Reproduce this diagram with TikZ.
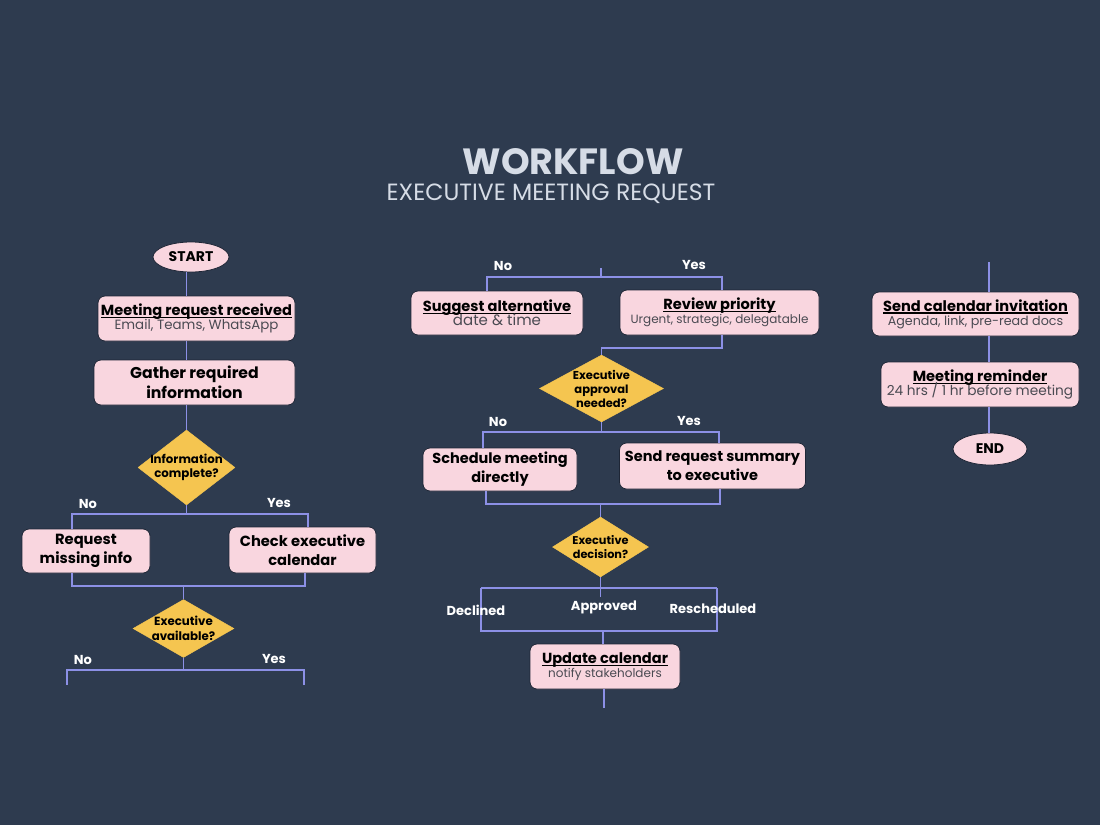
\documentclass[tikz,border=0pt]{standalone}
\usepackage{fontspec}
\setmainfont{Poppins}
\usepackage{tikz}
\usetikzlibrary{shapes.geometric}
\definecolor{bgblue}{HTML}{2E3B4F}
\definecolor{boxpink}{HTML}{F9D6DF}
\definecolor{boxedge}{HTML}{1E2636}
\definecolor{decyellow}{HTML}{F5C550}
\definecolor{flowline}{HTML}{8C90E6}
\definecolor{titlegray}{HTML}{D6DCE6}
\definecolor{subgray}{HTML}{4A4A52}
\newcommand{\titleline}[1]{\setbox0\hbox{#1}\rlap{\rule[-2.4pt]{\wd0}{1.1pt}}\box0}
\newcommand{\subtxt}[2]{{\fontsize{#1}{#1}\selectfont\mdseries\color{subgray}#2}}

\begin{document}
\begin{tikzpicture}[x=1pt,y=-1pt,
  termbox/.style={ellipse, draw=boxedge, line width=0.8pt, fill=boxpink, inner sep=0pt,
    font=\fontsize{14}{16}\selectfont\bfseries},
  stepbox/.style={rectangle, rounded corners=7pt, draw=boxedge, line width=0.8pt, fill=boxpink,
    inner sep=0pt, align=center, font=\fontsize{15}{19}\selectfont\bfseries},
  notebox/.style={stepbox, font=\fontsize{14.6}{17}\selectfont\bfseries},
  decision/.style={diamond, draw=decyellow, fill=decyellow, inner sep=0pt},
  qtext/.style={align=center, font=\fontsize{11.8}{14.5}\selectfont\bfseries, text=black},
  branch/.style={draw=flowline, line width=1.8pt},
  lbl/.style={text=white, font=\fontsize{13}{14}\selectfont\bfseries}]

\path[use as bounding box, fill=bgblue] (0,0) rectangle (1100,825);

% title
\node[text=titlegray, font=\fontsize{36.5}{38}\selectfont\bfseries] (title) at (573,162) {WORKFLOW};
\node[text=titlegray, font=\fontsize{23.5}{26}\selectfont] (subtitle) at (551,194) {EXECUTIVE MEETING REQUEST};

% left column
\node[termbox, minimum width=76pt, minimum height=30pt] (start) at (191,257) {START};
\node[notebox, minimum width=197pt, minimum height=45pt] (recv) at (196.5,318.5)
  {\titleline{Meeting request received}\\[-3pt]\subtxt{13.4}{Email, Teams, WhatsApp}};
\node[stepbox, minimum width=201pt, minimum height=45pt, font=\fontsize{15.7}{20}\selectfont\bfseries] (gather) at (194.5,382.5) {Gather required\\information};
\node[decision, minimum width=97pt, minimum height=75pt,
  label={[qtext]center:Information\\complete?}] (infoq) at (186.5,467.5) {};
\node[stepbox, minimum width=128pt, minimum height=44pt, font=\fontsize{14.7}{19}\selectfont\bfseries] (reqmiss) at (86,551) {Request\\missing info};
\node[stepbox, minimum width=147pt, minimum height=46pt, font=\fontsize{14.7}{19}\selectfont\bfseries] (checkcal) at (302.5,550) {Check executive\\calendar};
\node[decision, minimum width=101pt, minimum height=58pt,
  label={[qtext]center:Executive\\available?}] (availq) at (183.5,628.5) {};

\coordinate (noA) at (72,514);
\coordinate (yesA) at (308,514);
\coordinate (mergeA) at (72,586);
\coordinate (mergeB) at (305,586);
\coordinate (noB) at (67,670);
\coordinate (yesB) at (304,670);

\draw[branch] (start.south -| infoq) -- (recv.north -| infoq);
\draw[branch] (recv.south -| infoq) -- (gather.north -| infoq);
\draw[branch] (gather.south -| infoq) -- (infoq.north);
\draw[branch] (infoq.south) |- (noA) -- (noA |- reqmiss.north);
\draw[branch] (infoq.south) |- (yesA) -- (yesA |- checkcal.north);
\draw[branch] (mergeA |- reqmiss.south) -- (mergeA) -- (mergeB) -- (mergeB |- checkcal.south);
\draw[branch] (availq.north) -- (availq.north |- mergeA);
\draw[branch] (availq.south) |- (noB) -- ++(0,15);
\draw[branch] (availq.south) |- (yesB) -- ++(0,15);

\node[lbl] (noAlbl) at (88,504) {No};
\node[lbl] (yesAlbl) at (279,503) {Yes};
\node[lbl] (noBlbl) at (83,660) {No};
\node[lbl] (yesBlbl) at (274,659) {Yes};

% middle column
\node[notebox, minimum width=172pt, minimum height=44pt] (suggest) at (497,313)
  {\titleline{Suggest alternative}\\[-3pt]\subtxt{15}{date \& time}};
\node[notebox, minimum width=199pt, minimum height=45pt] (review) at (719.5,312.5)
  {\titleline{Review priority}\\[-3pt]\subtxt{12}{Urgent, strategic, delegatable}};
\node[decision, minimum width=124pt, minimum height=67pt,
  label={[qtext, font=\fontsize{11.5}{14}\selectfont\bfseries]center:Executive\\approval\\needed?}] (apprq) at (601.5,388.5) {};
\node[stepbox, minimum width=154pt, minimum height=43pt, font=\fontsize{14.5}{19}\selectfont\bfseries] (sched) at (500,469.5) {Schedule meeting\\directly};
\node[stepbox, minimum width=186pt, minimum height=46pt, font=\fontsize{14.5}{19}\selectfont\bfseries] (sendsum) at (712.5,466) {Send request summary\\to executive};
\node[decision, minimum width=96pt, minimum height=60pt,
  label={[qtext, font=\fontsize{11.3}{14}\selectfont\bfseries]center:Executive\\decision?}] (decq) at (600.5,547) {};
\node[notebox, minimum width=150pt, minimum height=45pt] (update) at (605,666.5)
  {\titleline{Update calendar}\\[-3pt]\subtxt{12}{notify stakeholders}};

\coordinate (topM) at (601,268);
\coordinate (noC) at (487,277);
\coordinate (yesC) at (722,277);
\coordinate (turnC) at (722,348);
\coordinate (noD) at (483,432);
\coordinate (yesD) at (719,432);
\coordinate (mergeC) at (486,504);
\coordinate (mergeD) at (720,504);
\coordinate (declA) at (481,588);
\coordinate (reschA) at (717,588);
\coordinate (declB) at (481,631);
\coordinate (reschB) at (717,631);
\coordinate (approvA) at (600.5,597);

\draw[branch] (topM) -- (topM |- noC);
\draw[branch] (noC |- suggest.north) -- (noC) -- (yesC) -- (yesC |- review.north);
\draw[branch] (turnC |- review.south) -- (turnC) -| (apprq.north);
\draw[branch] (apprq.south) |- (noD) -- (noD |- sched.north);
\draw[branch] (apprq.south) |- (yesD) -- (yesD |- sendsum.north);
\draw[branch] (mergeC |- sched.south) -- (mergeC) -- (mergeD) -- (mergeD |- sendsum.south);
\draw[branch] (decq.north) -- (decq.north |- mergeC);
\draw[branch] (decq.south) -- (approvA);
\draw[branch] (declA) -- (reschA);
\draw[branch] (declA) -- (declB) -- (reschB) -- (reschA);
\draw[branch] (update.north -| 603,0) -- (603,631);
\draw[branch] (update.south -| 604,0) -- ++(0,19);

\node[lbl] (noClbl) at (503,266) {No};
\node[lbl] (yesClbl) at (694,265) {Yes};
\node[lbl] (noDlbl) at (498,422) {No};
\node[lbl] (yesDlbl) at (689,421) {Yes};
\node[lbl] (decllbl) at (476,610) {Declined};
\node[lbl] (approvlbl) at (604,607) {Approved};
\node[lbl] (reschlbl) at (713,609) {Rescheduled};

% right column
\node[notebox, minimum width=207pt, minimum height=44pt] (invite) at (975.5,314)
  {\titleline{Send calendar invitation}\\[-3pt]\subtxt{12.7}{Agenda, link, pre-read docs}};
\node[notebox, minimum width=198pt, minimum height=45pt] (remind) at (980,384.5)
  {\titleline{Meeting reminder}\\[-3pt]\subtxt{13.7}{24 hrs / 1 hr before meeting}};
\node[termbox, minimum width=74pt, minimum height=32pt] (end) at (990,449) {END};

\coordinate (topR) at (989,262);
\draw[branch] (topR) -- (topR |- invite.north);
\draw[branch] (topR |- invite.south) -- (topR |- remind.north);
\draw[branch] (topR |- remind.south) -- (topR |- end.north);

\end{tikzpicture}
\end{document}
